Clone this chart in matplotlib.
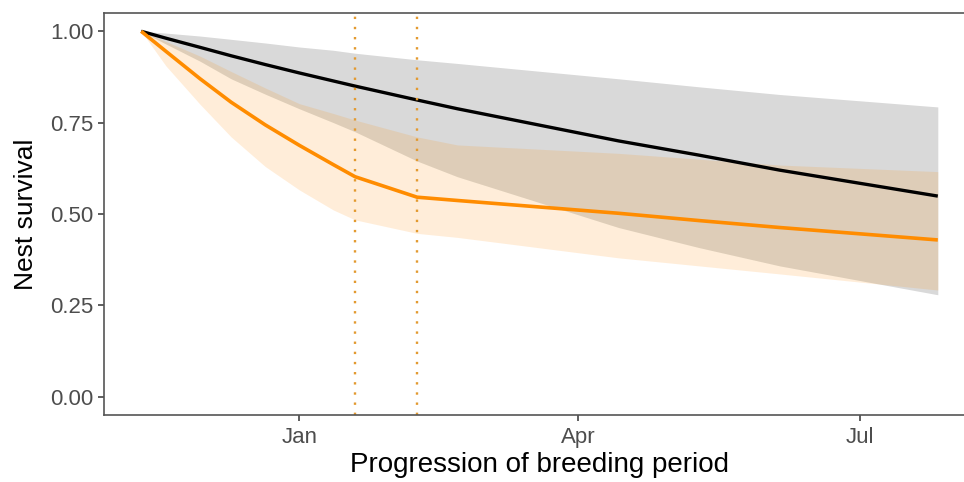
import matplotlib
matplotlib.use("Agg")
import matplotlib.pyplot as plt
import matplotlib.dates as mdates
import numpy as np

plt.rcParams['font.family'] = ['Liberation Sans', 'DejaVu Sans']

# fechas en las que se leyeron los valores (líneas y bandas)
fechas = np.array(['2018-11-11', '2018-11-19', '2018-11-30', '2018-12-10', '2018-12-21',
                   '2019-01-01', '2019-01-12', '2019-01-19', '2019-02-08', '2019-02-21',
                   '2019-04-14', '2019-05-10', '2019-06-05', '2019-07-26'],
                  dtype='datetime64[D]')

# supervivencia (negro = referencia, naranja = tratamiento)
superv_negro = [1.00, 0.981, 0.956, 0.933, 0.909, 0.886, 0.864, 0.850, 0.812, 0.788,
                0.700, 0.661, 0.620, 0.549]
superv_naranja = [1.00, 0.945, 0.870, 0.806, 0.744, 0.688, 0.635, 0.602, 0.546, 0.537,
                  0.502, 0.482, 0.463, 0.429]

# bandas de confianza
gris_sup = [1.00, 0.995, 0.987, 0.978, 0.968, 0.957, 0.948, 0.940, 0.922, 0.912,
            0.870, 0.848, 0.827, 0.793]
gris_inf = [1.00, 0.965, 0.918, 0.870, 0.828, 0.788, 0.750, 0.725, 0.645, 0.602,
            0.463, 0.408, 0.358, 0.279]
naranja_sup = [1.00, 0.972, 0.932, 0.890, 0.845, 0.802, 0.775, 0.757, 0.711, 0.689,
               0.666, 0.650, 0.634, 0.616]
naranja_inf = [1.00, 0.905, 0.800, 0.711, 0.630, 0.566, 0.511, 0.484, 0.447, 0.436,
               0.380, 0.358, 0.336, 0.292]

# cambios de periodo (líneas verticales punteadas)
fechas_corte = np.array(['2019-01-19', '2019-02-08'], dtype='datetime64[D]')

ticks_y = [0.00, 0.25, 0.50, 0.75, 1.00]
etiquetas_y = ['0.00', '0.25', '0.50', '0.75', '1.00']

fig = plt.figure(figsize=(9.64, 4.82), dpi=100)
ax = fig.add_axes([104 / 964, 67 / 482, 871 / 964, 402 / 482])

ax.fill_between(fechas, gris_inf, gris_sup, color='black', alpha=0.15, linewidth=0)
ax.fill_between(fechas, naranja_inf, naranja_sup, color='darkorange', alpha=0.15, linewidth=0)
ax.plot(fechas, superv_negro, color='black', linewidth=2.4, solid_capstyle='butt')
ax.plot(fechas, superv_naranja, color='darkorange', linewidth=2.6, solid_capstyle='butt')
for fc in fechas_corte:
    ax.axvline(fc, color='#E39A30', linestyle=(0, (1, 3.3)), linewidth=1.7)

inicio = fechas[0]
fin = fechas[-1]
margen = (fin - inicio) * 0.05
ax.set_xlim(inicio - margen, fin + margen)
ax.set_ylim(-0.05, 1.05)

ax.xaxis.set_major_locator(mdates.MonthLocator(bymonth=[1, 4, 7]))
ax.xaxis.set_major_formatter(mdates.DateFormatter('%b'))
ax.set_yticks(ticks_y)
ax.set_yticklabels(etiquetas_y)
ax.tick_params(axis='both', length=4.5, width=1.1, color='#333333', labelcolor='#4D4D4D',
               labelsize=16)
ax.tick_params(axis='x', pad=4)
ax.tick_params(axis='y', pad=3)

for s in ax.spines.values():
    s.set_color('#555555')
    s.set_linewidth(1.2)

ax.set_xlabel('Progression of breeding period', fontsize=20, labelpad=3)
ax.set_ylabel('Nest survival', fontsize=19, labelpad=9)

fig.savefig('out.png', dpi=100)
